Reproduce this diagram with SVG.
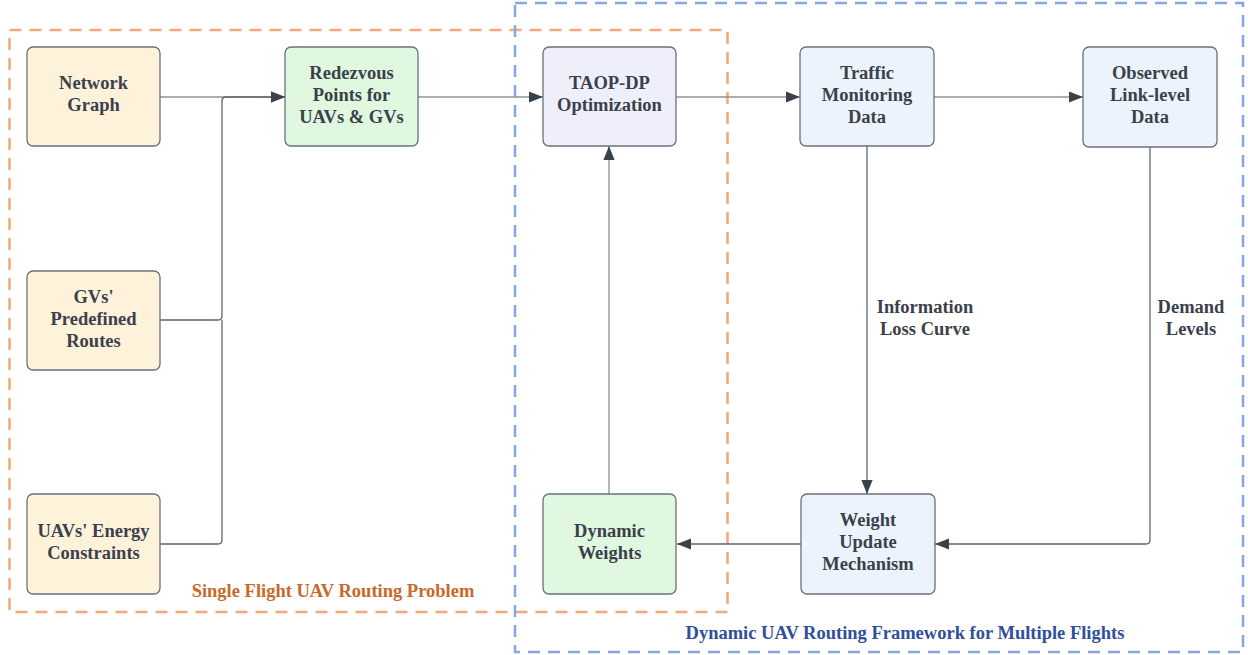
<svg xmlns="http://www.w3.org/2000/svg" width="1248" height="655" viewBox="0 0 1248 655">
<style>
.node rect{stroke:#6b7079;stroke-width:1.3}
.t{font-family:"Liberation Serif","Times New Roman",serif;font-weight:bold;font-size:18.5px;fill:#3a414a;text-anchor:middle}
.orange{fill:#fef2db}
.green{fill:#e0f8e0}
.lav{fill:#efeffc}
.blue{fill:#edf3fd}
.conn{fill:none;stroke:#8d939b;stroke-width:1.3}
.conn2{fill:none;stroke:#5f6670;stroke-width:1.3}
</style>
<defs>
<marker id="ah" viewBox="0 0 10 10" refX="10" refY="5" markerWidth="14" markerHeight="14" markerUnits="userSpaceOnUse" orient="auto">
<path d="M0,1 L10,5 L0,9 Z" fill="#3a414a"/>
</marker>
</defs>
<rect width="1248" height="655" fill="#ffffff"/>
<g id="groups">
<rect x="9.5" y="30" width="718" height="582" fill="none" stroke="#f4a77a" stroke-width="2.5" stroke-dasharray="12 8"/>
<rect x="515" y="3" width="728" height="649" fill="none" stroke="#87a6e0" stroke-width="2.5" stroke-dasharray="12 8"/>
<text class="t" x="333" y="597" style="fill:#c8692a">Single Flight UAV Routing Problem</text>
<text class="t" x="905" y="639" style="fill:#2f4f9a">Dynamic UAV Routing Framework for Multiple Flights</text>
</g>
<g id="connectors">
<path class="conn" d="M160,97 H285" marker-end="url(#ah)"/>
<path class="conn2" d="M160,320 H218 Q222,320 222,316 V101 Q222,97 226,97 H285" marker-end="url(#ah)"/>
<path class="conn2" d="M160,544 H218 Q222,544 222,540 V320"/>
<path class="conn" d="M418,97 H543" marker-end="url(#ah)"/>
<path class="conn" d="M676,97 H800" marker-end="url(#ah)"/>
<path class="conn" d="M934,97 H1083" marker-end="url(#ah)"/>
<path class="conn2" d="M867,146 V494" marker-end="url(#ah)"/>
<path class="conn2" d="M1150,147 V540 Q1150,544 1146,544 H935" marker-end="url(#ah)"/>
<path class="conn2" d="M801,544 H677" marker-end="url(#ah)"/>
<path class="conn" d="M609,494 V146" marker-end="url(#ah)"/>
<rect x="872" y="294" width="106" height="46" fill="#ffffff"/>
<text class="t" x="925" y="313">Information</text>
<text class="t" x="925" y="335">Loss Curve</text>
<rect x="1155" y="294" width="72" height="46" fill="#ffffff"/>
<text class="t" x="1191" y="313">Demand</text>
<text class="t" x="1191" y="335">Levels</text>
</g>
<g id="network-graph" class="node">
<rect class="orange" x="27" y="47" width="133" height="99" rx="6"/>
<text class="t" x="93.5" y="89">Network</text>
<text class="t" x="93.5" y="111">Graph</text>
</g>
<g id="gvs-routes" class="node">
<rect class="orange" x="27" y="271" width="133" height="99" rx="6"/>
<text class="t" x="93.5" y="303">GVs'</text>
<text class="t" x="93.5" y="325">Predefined</text>
<text class="t" x="93.5" y="347">Routes</text>
</g>
<g id="uav-energy" class="node">
<rect class="orange" x="27" y="494" width="133" height="100" rx="6"/>
<text class="t" x="93.5" y="537">UAVs' Energy</text>
<text class="t" x="93.5" y="559">Constraints</text>
</g>
<g id="rendezvous" class="node">
<rect class="green" x="285" y="47" width="133" height="99" rx="6"/>
<text class="t" x="351.5" y="79">Redezvous</text>
<text class="t" x="351.5" y="101">Points for</text>
<text class="t" x="351.5" y="123">UAVs &amp; GVs</text>
</g>
<g id="taop-dp" class="node">
<rect class="lav" x="543" y="47" width="133" height="99" rx="6"/>
<text class="t" x="609.5" y="89">TAOP-DP</text>
<text class="t" x="609.5" y="111">Optimization</text>
</g>
<g id="traffic" class="node">
<rect class="blue" x="800" y="47" width="134" height="99" rx="6"/>
<text class="t" x="867" y="79">Traffic</text>
<text class="t" x="867" y="101">Monitoring</text>
<text class="t" x="867" y="123">Data</text>
</g>
<g id="observed" class="node">
<rect class="blue" x="1083" y="47" width="134" height="100" rx="6"/>
<text class="t" x="1150" y="79">Observed</text>
<text class="t" x="1150" y="101">Link-level</text>
<text class="t" x="1150" y="123">Data</text>
</g>
<g id="dynamic-weights" class="node">
<rect class="green" x="543" y="494" width="133" height="100" rx="6"/>
<text class="t" x="609.5" y="537">Dynamic</text>
<text class="t" x="609.5" y="559">Weights</text>
</g>
<g id="weight-update" class="node">
<rect class="blue" x="801" y="494" width="134" height="100" rx="6"/>
<text class="t" x="868" y="526">Weight</text>
<text class="t" x="868" y="548">Update</text>
<text class="t" x="868" y="570">Mechanism</text>
</g>
</svg>
